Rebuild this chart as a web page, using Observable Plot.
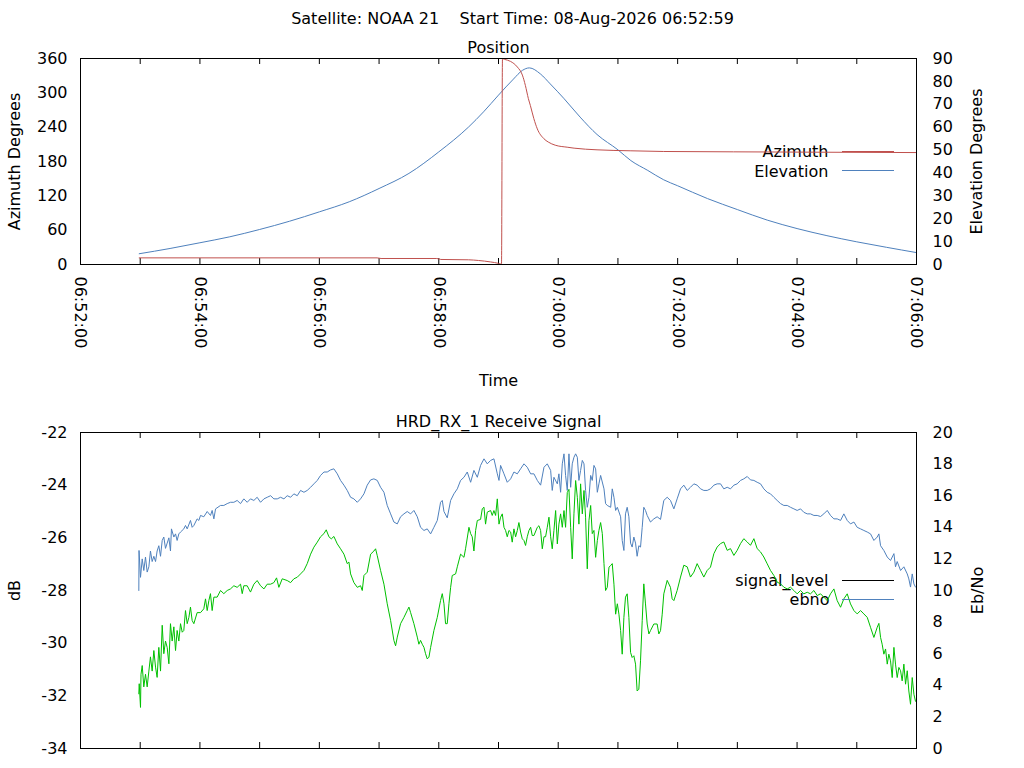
<!DOCTYPE html>
<html><head><meta charset="utf-8">
<script src="https://cdn.jsdelivr.net/npm/d3@7"></script>
<script src="https://cdn.jsdelivr.net/npm/@observablehq/plot@0.6"></script>
<style>
body{margin:0;background:#fff;}
#chart{width:1024px;height:768px;overflow:hidden;background:#fff;}
#chart svg{display:block;}
</style>
</head><body><div id="chart"></div>
<script>
// ---- data: [seconds after 06:52:00, value] ----
const mainTitle = "Satellite: NOAA 21    Start Time: 08-Aug-2026 06:52:59";
const topTitle = "Position";
const bottomTitle = "HRD_RX_1 Receive Signal";
const azTicks = [0, 60, 120, 180, 240, 300, 360];
const elTicks = [0, 10, 20, 30, 40, 50, 60, 70, 80, 90];
const dbTicks = [-34, -32, -30, -28, -26, -24, -22];
const ebnoTicks = [0, 2, 4, 6, 8, 10, 12, 14, 16, 18, 20];

const azimuthDeg = [[59,11.6],[298,11.6],[302,10.5],[358,10.5],[362,8.8],[390,8.2],[400,7.0],[412,4.5],[420,2.0],[423,0.5],
 [424,359.5],[426,358.5],[432,355],[439,345],[444,331],[447,313],[450,290],[452,278],[455.5,255],[459,237],[465.5,220],[470,214],
 [477,208.5],[489,205],[496,203.3],[519,200.4],[553,198.7],[586,197.5],[656,196.9],[840,195.6]];

const elevationDeg = [[59,4.7],[90,7.0],[120,9.5],[150,12.1],[180,15.3],[210,18.9],[240,23.0],[270,27.4],[300,33.2],[330,39.8],
 [360,49.2],[390,60.1],[405,66.7],[420,74.0],[435,81.0],[444,84.8],[451,85.9],[462,83.3],[472,78.9],[486,72.4],[502,64.4],
 [519,56.8],[540,50.1],[553,45.4],[570,41.1],[586,37.0],[600,34.4],[630,28.8],[660,24.0],[690,19.4],[720,15.7],[750,12.6],[780,9.9],
 [810,7.5],[840,5.2]];

const signalLevel = [[58.6,-28.0],[58.8,-26.48],[60.3,-27.5],[62.0,-26.8],[63.6,-27.24],[65.3,-26.73],[67.0,-27.3],[68.7,-27.1],
 [70.3,-26.5],[72.0,-26.9],[73.7,-26.7],[75.4,-26.9],[77.0,-26.5],[78.7,-26.3],[80.4,-26.7],[82.1,-26.1],[83.7,-25.97],[85.4,-26.4],
 [87.1,-26.2],[88.8,-26.0],[90.4,-26.5],[91.4,-25.66],[93.8,-25.97],[95.5,-25.85],[97.1,-26.1],[98.8,-25.85],[100.5,-25.78],
 [103.8,-25.66],[105.5,-25.53],[107.2,-25.66],[110.5,-25.34],[112.2,-25.6],[113.9,-25.53],[117.2,-25.28],[118.9,-25.34],[120.6,-25.15],
 [123.9,-25.2],[127.3,-25.0],[130.6,-25.15],[132.3,-24.96],[134.0,-25.28],[135.7,-24.9],[140.7,-24.77],[144.0,-24.77],[147.4,-24.7],
 [150.7,-24.65],[154.1,-24.65],[157.4,-24.58],[160.8,-24.7],[164.1,-24.52],[167.5,-24.65],[170.8,-24.52],[174.2,-24.58],[177.5,-24.46],
 [180.9,-24.65],[184.3,-24.52],[187.6,-24.46],[191.0,-24.4],[194.3,-24.52],[197.7,-24.52],[201.0,-24.46],[204.4,-24.52],[207.7,-24.4],
 [211.1,-24.46],[214.4,-24.33],[217.8,-24.4],[221.1,-24.2],[224.5,-24.27],[227.8,-24.2],[231.2,-24.08],[234.5,-23.95],[237.9,-23.82],
 [241.2,-23.63],[244.6,-23.5],[247.9,-23.5],[251.3,-23.42],[254.6,-23.38],[258.0,-23.57],[261.3,-23.82],[264.7,-24.0],[268.0,-24.2],
 [271.4,-24.46],[274.7,-24.52],[278.1,-24.65],[281.4,-24.52],[284.8,-24.33],[288.1,-24.0],[291.5,-23.8],[294.8,-23.76],[298.2,-23.82],
 [301.5,-24.08],[304.9,-24.27],[308.2,-24.77],[311.6,-25.09],[314.9,-25.4],[318.3,-25.47],[321.6,-25.2],[325.0,-25.09],[328.3,-25.0],
 [331.7,-25.09],[335.0,-24.96],[338.4,-25.2],[341.7,-25.6],[345.1,-25.72],[348.4,-25.66],[351.8,-25.85],[355.1,-25.6],[358.5,-25.34],
 [361.8,-24.65],[363.5,-24.58],[365.2,-25.0],[368.5,-25.24],[371.9,-24.58],[375.2,-24.33],[378.6,-24.14],[381.9,-23.82],[385.3,-23.7],
 [388.6,-23.5],[392.0,-23.89],[395.3,-23.44],[398.7,-23.7],[402.0,-23.25],[405.4,-23.0],[408.7,-23.19],[412.1,-23.06],[415.4,-23.0],
 [418.8,-23.57],[420.5,-23.82],[422.1,-23.25],[425.5,-23.57],[428.8,-23.89],[432.2,-23.76],[435.5,-23.5],[438.9,-23.57],[442.2,-23.38],
 [445.6,-23.19],[448.9,-23.32],[452.3,-23.57],[455.6,-23.57],[459.0,-23.82],[462.3,-24.0],[465.7,-23.32],[469.0,-23.19],[472.4,-23.44],
 [474.0,-24.2],[475.7,-23.7],[479.1,-23.95],[480.7,-23.57],[482.4,-24.27],[484.1,-23.19],[485.8,-22.81],[487.4,-23.63],[489.1,-24.2],
 [490.8,-22.81],[492.5,-24.08],[494.1,-23.19],[495.8,-22.94],[497.5,-22.81],[499.2,-22.94],[500.8,-23.82],[502.5,-23.44],[504.2,-23.06],
 [505.9,-23.19],[507.5,-24.2],[509.2,-24.84],[510.9,-24.46],[512.6,-23.63],[514.2,-23.82],[515.9,-23.25],[517.6,-23.38],[519.3,-24.27],
 [520.9,-23.95],[522.6,-23.63],[526.0,-24.14],[527.6,-24.7],[529.3,-24.77],[532.7,-24.84],[534.3,-24.14],[536.0,-24.46],[537.7,-24.96],
 [539.4,-24.84],[542.7,-25.2],[544.3,-26.1],[546.0,-26.48],[547.6,-25.09],[549.3,-24.84],[551.0,-25.2],[552.7,-26.2],[554.3,-26.35],
 [556.0,-25.97],[557.7,-26.2],[559.3,-26.7],[561.0,-26.3],[562.7,-26.35],[564.4,-25.6],[566.0,-24.84],[567.7,-24.96],[569.4,-25.15],
 [572.7,-25.4],[576.1,-25.28],[579.4,-25.2],[582.8,-25.3],[586.1,-24.58],[589.5,-24.46],[592.8,-24.58],[596.2,-24.9],[599.5,-24.52],
 [602.9,-24.14],[606.2,-24.0],[609.6,-24.2],[612.9,-24.08],[616.3,-23.95],[619.6,-24.0],[623.0,-24.14],[626.3,-24.2],[629.7,-24.2],
 [633.0,-24.14],[636.4,-24.0],[639.7,-23.95],[643.1,-23.95],[646.4,-24.14],[649.8,-24.08],[653.1,-24.14],[656.5,-24.0],[659.8,-23.95],
 [663.2,-23.82],[666.5,-23.76],[669.9,-23.67],[673.2,-23.8],[676.6,-23.82],[679.9,-23.89],[683.3,-23.95],[686.6,-24.14],[690.0,-24.27],
 [693.3,-24.33],[696.7,-24.46],[700.0,-24.58],[703.4,-24.7],[706.7,-24.77],[710.1,-24.77],[713.4,-24.84],[716.8,-24.9],[720.1,-24.96],
 [723.5,-24.9],[726.8,-25.03],[730.2,-25.09],[733.5,-25.09],[736.9,-25.15],[740.2,-25.15],[743.6,-25.19],[746.9,-25.09],[750.3,-24.96],
 [753.6,-25.15],[757.0,-25.28],[760.3,-25.28],[763.7,-25.34],[767.0,-25.09],[770.4,-25.34],[773.7,-25.47],[777.1,-25.4],[780.4,-25.6],
 [783.8,-25.66],[787.1,-25.72],[790.5,-25.78],[793.8,-25.85],[797.2,-26.1],[800.5,-25.97],[802.2,-25.85],[803.9,-26.3],[807.2,-26.48],
 [810.6,-26.73],[813.9,-26.86],[817.3,-26.6],[818.9,-27.1],[820.6,-26.9],[824.0,-27.24],[827.3,-27.1],[830.7,-27.37],[832.3,-27.56],
 [834.0,-27.87],[835.7,-27.37],[837.4,-27.75],[839.0,-27.87]];

const ebno = [[58.6,3.46],[59.0,4.1],[60.3,2.6],[60.8,4.7],[62.0,5.25],[63.6,3.9],[65.3,4.7],[67.0,3.9],[68.7,4.9],[70.3,5.8],
 [72.0,4.9],[73.7,6.2],[75.4,5.15],[77.0,4.5],[78.7,6.4],[80.4,4.9],[82.1,7.8],[83.7,6.0],[85.4,6.8],[87.1,6.4],[88.8,5.36],[90.4,7.9],
 [92.1,6.8],[93.8,7.7],[95.5,6.2],[97.1,7.47],[98.8,6.8],[100.5,7.9],[102.2,7.36],[103.8,7.47],[105.5,8.73],[107.2,7.9],[108.9,8.3],
 [110.5,8.95],[112.2,8.1],[113.9,7.9],[117.2,8.6],[120.6,8.6],[123.9,8.84],[125.6,9.47],[127.3,8.73],[129.0,9.37],[130.6,9.8],
 [132.3,8.73],[134.0,9.58],[137.3,9.58],[140.7,10.0],[144.0,9.8],[147.4,10.0],[150.7,10.1],[154.1,10.3],[157.4,10.2],[160.8,10.4],
 [162.5,9.8],[164.1,10.3],[167.5,10.3],[170.8,9.9],[174.2,10.4],[177.5,10.63],[180.9,10.3],[184.3,10.1],[187.6,10.4],[191.0,10.4],
 [194.3,10.5],[197.0,10.8],[199.3,10.2],[202.7,10.74],[207.7,10.63],[211.1,10.5],[214.4,10.74],[217.8,10.84],[221.1,11.05],[224.5,11.27],
 [227.8,11.7],[231.2,12.3],[234.5,12.74],[237.9,13.06],[241.2,13.4],[244.6,13.6],[246.9,13.84],[249.6,13.4],[252.0,13.27],[254.6,13.42],
 [258.0,12.95],[261.3,12.64],[264.7,12.3],[268.0,11.7],[269.7,11.8],[271.4,11.05],[274.7,10.5],[278.1,10.2],[281.4,10.3],[283.1,10.0],
 [284.8,10.95],[288.1,11.16],[291.5,12.3],[294.8,12.5],[296.5,12.64],[298.2,12.2],[301.5,11.27],[304.9,10.4],[308.2,9.16],[311.6,8.1],
 [314.9,6.84],[316.6,6.5],[318.3,7.05],[321.6,7.9],[325.0,8.3],[328.3,8.73],[330.0,8.95],[331.7,8.6],[335.0,7.9],[338.4,7.05],[340.0,6.6],
 [341.7,6.84],[343.4,6.6],[345.1,6.4],[346.7,6.0],[348.4,5.67],[350.1,5.78],[351.8,6.4],[355.1,7.47],[358.5,8.3],[361.8,9.37],[363.5,9.8],
 [365.2,9.16],[366.8,7.9],[368.5,7.9],[370.2,9.16],[371.9,10.2],[373.5,10.95],[376.9,11.05],[378.6,11.5],[381.9,12.3],[385.3,12.1],
 [386.9,12.64],[390.3,14.0],[392.0,13.6],[393.6,13.4],[395.3,12.5],[397.0,13.8],[398.7,14.43],[402.0,14.5],[403.7,15.17],[405.4,15.27],
 [407.0,14.2],[408.7,14.96],[412.1,15.06],[413.7,14.75],[415.4,15.06],[417.1,14.75],[418.8,15.8],[420.5,14.2],[422.1,14.64],[423.8,14.85],
 [425.5,14.0],[427.1,13.8],[428.8,13.4],[430.5,13.8],[432.2,13.7],[433.8,13.06],[435.5,13.9],[437.2,13.4],[438.9,13.8],[440.5,14.3],
 [442.2,13.7],[443.9,13.27],[445.6,13.16],[447.2,12.85],[448.9,13.4],[450.6,13.8],[452.3,14.0],[453.9,13.48],[455.6,13.48],[459.0,14.0],
 [460.6,14.1],[462.3,13.8],[464.0,12.64],[465.7,13.4],[467.3,13.4],[469.0,14.0],[470.7,14.64],[472.4,13.4],[474.0,12.64],[475.7,13.8],
 [477.4,15.06],[479.1,12.95],[480.7,14.2],[482.4,14.85],[484.1,14.0],[485.8,15.06],[487.4,14.0],[489.1,16.2],[490.8,16.4],[492.5,14.0],
 [494.1,12.0],[495.8,14.85],[497.5,16.96],[499.2,15.9],[500.8,14.2],[502.5,16.75],[504.2,14.85],[505.9,16.33],[507.5,14.64],[509.2,11.37],
 [510.9,14.43],[512.6,15.38],[514.2,13.6],[515.9,13.8],[517.6,12.1],[519.3,13.16],[520.9,13.8],[522.6,14.3],[524.3,13.6],[526.0,11.7],
 [527.6,10.0],[529.3,10.2],[531.0,11.48],[532.7,11.58],[534.3,11.7],[536.0,10.4],[537.7,8.5],[539.4,9.16],[541.0,8.5],[542.7,7.47],
 [544.3,5.97],[546.0,8.3],[547.6,9.58],[549.3,9.79],[551.0,8.3],[552.7,6.08],[554.3,5.76],[556.0,5.87],[557.7,5.34],[559.3,3.64],
 [561.0,3.75],[562.7,5.55],[564.4,8.09],[566.0,10.42],[567.7,9.15],[569.4,7.88],[571.1,7.25],[572.7,7.46],[576.1,7.88],[579.4,7.88],
 [581.1,7.25],[582.8,7.46],[584.5,8.5],[586.1,9.79],[589.5,10.64],[592.8,10.2],[594.5,9.47],[596.2,9.36],[599.5,10.0],[602.9,10.85],
 [606.2,11.6],[609.6,11.5],[612.9,10.85],[616.3,11.16],[619.6,11.7],[623.0,11.27],[626.3,10.85],[629.7,11.27],[633.0,11.48],[636.4,12.33],
 [639.7,12.75],[643.1,12.97],[646.4,13.07],[649.8,12.54],[653.1,12.65],[656.5,12.22],[659.8,12.54],[663.2,12.97],[666.5,13.28],[669.9,13.07],
 [673.2,12.86],[676.6,13.28],[679.9,12.65],[683.3,12.44],[686.6,12.12],[690.0,11.69],[693.3,11.27],[696.7,10.95],[700.0,10.53],[703.4,10.42],
 [706.7,10.21],[710.1,10.1],[713.4,10.21],[716.8,10.0],[720.1,9.79],[723.5,10.0],[726.8,9.79],[730.2,9.89],[733.5,9.79],[736.9,10.0],
 [740.2,9.68],[743.6,9.79],[746.9,9.58],[750.3,9.36],[753.6,9.79],[757.0,10.1],[760.3,9.36],[763.7,8.94],[767.0,9.47],[770.4,9.79],
 [773.7,9.15],[777.1,8.73],[780.4,8.52],[783.8,8.73],[787.1,8.52],[790.5,8.3],[793.8,7.67],[797.2,7.03],[800.5,7.67],[802.2,7.92],
 [803.9,7.03],[805.5,6.6],[807.2,5.97],[808.9,6.3],[810.6,5.34],[812.2,5.97],[813.9,5.55],[815.6,4.49],[817.3,6.4],[818.9,5.34],
 [820.6,4.49],[822.3,5.13],[824.0,4.92],[825.6,4.28],[827.3,5.34],[829.0,4.07],[830.7,4.92],[832.3,3.64],[834.0,2.8],[835.7,4.49],
 [837.4,3.43],[839.0,2.99]];

// ---- helpers ----
const t0 = Date.UTC(2026, 7, 8, 6, 52, 0);
const T = s => new Date(t0 + s * 1000);
const xDomain = [T(0), T(840)];
const minuteTicks = d3.range(0, 841, 60).map(T);
const labelTicks = d3.range(0, 841, 120).map(T);
const fmt = d3.utcFormat("%H:%M:%S");

const RED = "#c0504d", BLUE = "#4f81bd", GREEN = "#00c000";
const style = {fontFamily: "'DejaVu Sans', sans-serif", fontSize: "16px", color: "#000", background: "#fff", overflow: "visible"};
const W = 1024, ML = 80, MR = 108;

// ---- top panel ----
const topH = 400, topMT = 58, topMB = 136, topIH = topH - topMT - topMB;
const topSvg = Plot.plot({
  width: W, height: topH, marginLeft: ML, marginRight: MR, marginTop: topMT, marginBottom: topMB,
  style,
  x: {type: "utc", domain: xDomain, axis: null},
  y: {domain: [0, 360], axis: null},
  marks: [
    Plot.text([mainTitle], {text: d => d, frameAnchor: "top-left", dx: 432, dy: -35, textAnchor: "middle", lineAnchor: "bottom"}),
    Plot.text([topTitle], {text: d => d, frameAnchor: "top", dy: -6, textAnchor: "middle", lineAnchor: "bottom"}),
    Plot.text(azTicks, {y: d => d, text: d => String(d), frameAnchor: "left", dx: -13, textAnchor: "end"}),
    Plot.text(elTicks, {y: d => d * 4, text: d => String(d), frameAnchor: "right", dx: 16, textAnchor: "start"}),
    Plot.text(labelTicks, {x: d => d, text: d => fmt(d), frameAnchor: "bottom", dy: 12, rotate: 90, textAnchor: "start", lineAnchor: "middle"}),
    Plot.text(["Azimuth Degrees"], {text: d => d, frameAnchor: "left", dx: -61, rotate: -90, textAnchor: "middle", lineAnchor: "bottom"}),
    Plot.text(["Elevation Degrees"], {text: d => d, frameAnchor: "right", dx: 65, rotate: -90, textAnchor: "middle", lineAnchor: "bottom"}),
    Plot.text(["Time"], {text: d => d, frameAnchor: "bottom", dy: 121, textAnchor: "middle", lineAnchor: "bottom"}),
    Plot.text(["Azimuth"], {text: d => d, frameAnchor: "top-right", dx: -88, dy: 98, textAnchor: "end", lineAnchor: "bottom"}),
    Plot.text(["Elevation"], {text: d => d, frameAnchor: "top-right", dx: -88, dy: 118, textAnchor: "end", lineAnchor: "bottom"}),
    Plot.tickX(minuteTicks, {x: d => d, insetTop: topIH - 6, stroke: "#000"}),
    Plot.tickX(minuteTicks, {x: d => d, insetBottom: topIH - 6, stroke: "#000"}),
    Plot.line(elevationDeg, {x: d => T(d[0]), y: d => d[1] * 4, stroke: BLUE, strokeWidth: 1, curve: "monotone-x"}),
    Plot.line(azimuthDeg, {x: d => T(d[0]), y: d => d[1], stroke: RED, strokeWidth: 1, curve: "monotone-x"}),
    Plot.frame({stroke: "#000", strokeWidth: 1})
  ]
});

// ---- bottom panel ----
const botH = 368, botMT = 32, botMB = 20, botIH = botH - botMT - botMB;
const eToDb = e => -34 + e * 0.6;
const botSvg = Plot.plot({
  width: W, height: botH, marginLeft: ML, marginRight: MR, marginTop: botMT, marginBottom: botMB,
  style,
  x: {type: "utc", domain: xDomain, axis: null},
  y: {domain: [-34, -22], axis: null},
  marks: [
    Plot.text([bottomTitle], {text: d => d, frameAnchor: "top", dy: -6, textAnchor: "middle", lineAnchor: "bottom"}),
    Plot.text(dbTicks, {y: d => d, text: d => String(d), frameAnchor: "left", dx: -13, textAnchor: "end"}),
    Plot.text(ebnoTicks, {y: d => eToDb(d), text: d => String(d), frameAnchor: "right", dx: 16, textAnchor: "start"}),
    Plot.text(["dB"], {text: d => d, frameAnchor: "left", dx: -61, rotate: -90, textAnchor: "middle", lineAnchor: "bottom"}),
    Plot.text(["Eb/No"], {text: d => d, frameAnchor: "right", dx: 66, rotate: -90, textAnchor: "middle", lineAnchor: "bottom"}),
    Plot.text(["signal_level"], {text: d => d, frameAnchor: "top-right", dx: -88, dy: 153, textAnchor: "end", lineAnchor: "bottom"}),
    Plot.text(["ebno"], {text: d => d, frameAnchor: "top-right", dx: -87, dy: 172, textAnchor: "end", lineAnchor: "bottom"}),
    Plot.tickX(minuteTicks, {x: d => d, insetTop: botIH - 6, stroke: "#000"}),
    Plot.tickX(minuteTicks, {x: d => d, insetBottom: botIH - 6, stroke: "#000"}),
    Plot.line(signalLevel, {x: d => T(d[0]), y: d => d[1], stroke: BLUE, strokeWidth: 1}),
    Plot.line(ebno, {x: d => T(d[0]), y: d => eToDb(d[1]), stroke: GREEN, strokeWidth: 1}),
    Plot.frame({stroke: "#000", strokeWidth: 1})
  ]
});

// legend sample lines (layout positions)
function legendLine(svg, y, color) {
  d3.select(svg).append("line")
    .attr("x1", 842).attr("x2", 894).attr("y1", y).attr("y2", y)
    .attr("stroke", color).attr("stroke-width", 1);
}
legendLine(topSvg, 151.5, RED);
legendLine(topSvg, 170.5, BLUE);
legendLine(botSvg, 180.5, "#000");
legendLine(botSvg, 199.5, BLUE);

const chart = document.getElementById("chart");
chart.appendChild(topSvg);
chart.appendChild(botSvg);
</script>
</body></html>
